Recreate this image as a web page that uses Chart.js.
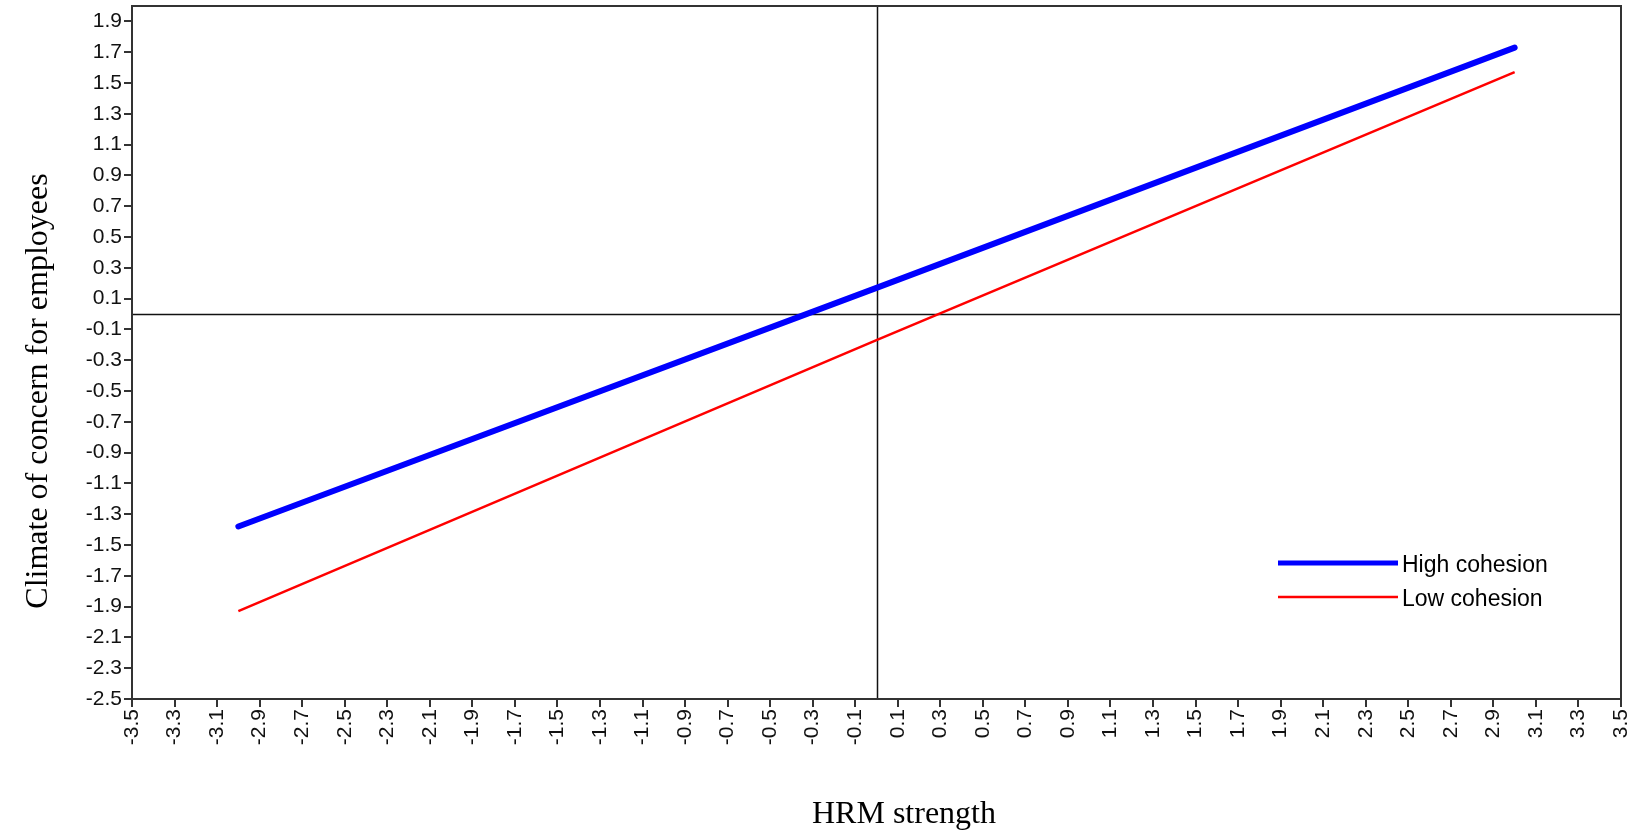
<!DOCTYPE html>
<html>
<head>
<meta charset="utf-8">
<script src="https://cdn.jsdelivr.net/npm/chart.js@4.4.1/dist/chart.umd.min.js"></script>
<style>
  body { margin: 0; background: #fff; }
  #wrap { width: 1635px; height: 833px; }
</style>
</head>
<body>
<div id="wrap"><canvas id="my-chart" width="1635" height="833"></canvas></div>
<script>
// values
const xValues = [-3, 0, 3];
const highCohesion = [-1.38, 0.17, 1.73];
const lowCohesion = [-1.93, -0.17, 1.57];

const seriesNames = ['High cohesion', 'Low cohesion'];
const xTitle = 'HRM strength';
const yTitle = 'Climate of concern for employees';

const xTicks = [-3.5, -3.3, -3.1, -2.9, -2.7, -2.5, -2.3, -2.1, -1.9, -1.7, -1.5, -1.3, -1.1, -0.9, -0.7, -0.5, -0.3, -0.1,
  0.1, 0.3, 0.5, 0.7, 0.9, 1.1, 1.3, 1.5, 1.7, 1.9, 2.1, 2.3, 2.5, 2.7, 2.9, 3.1, 3.3, 3.5];
const yTicks = [-2.5, -2.3, -2.1, -1.9, -1.7, -1.5, -1.3, -1.1, -0.9, -0.7, -0.5, -0.3, -0.1,
  0.1, 0.3, 0.5, 0.7, 0.9, 1.1, 1.3, 1.5, 1.7, 1.9];
const xMin = -3.5, xMax = 3.5, yMin = -2.5, yMax = 2.0;

const tickFont = { family: 'Liberation Sans, Arial, sans-serif', size: 21 };

// no extra room for the end labels, the plot fills the box
function noPadding(scale) {
  scale.paddingTop = 0;
  scale.paddingBottom = 0;
  scale.paddingLeft = 0;
  scale.paddingRight = 0;
}

// axes box + the two zero lines, titles and legend
const framePlugin = {
  id: 'frame',
  beforeDatasetsDraw(chart) {
    const { ctx, chartArea: a, scales } = chart;
    const x0 = Math.round(scales.x.getPixelForValue(0)) + 0.5;
    const y0 = Math.round(scales.y.getPixelForValue(0)) + 0.5;
    ctx.save();
    ctx.strokeStyle = '#111';
    ctx.lineWidth = 1.5;
    ctx.beginPath();
    ctx.moveTo(x0, a.top); ctx.lineTo(x0, a.bottom);
    ctx.moveTo(a.left, y0); ctx.lineTo(a.right, y0);
    ctx.stroke();
    ctx.strokeStyle = '#333';
    ctx.lineWidth = 2;
    ctx.strokeRect(a.left, a.top, a.right - a.left, a.bottom - a.top);
    ctx.restore();
  },
  afterDraw(chart) {
    const { ctx, chartArea: a } = chart;
    ctx.save();
    ctx.fillStyle = '#000';
    ctx.font = '32px "Liberation Serif", "Times New Roman", serif';
    ctx.textAlign = 'center';
    ctx.textBaseline = 'alphabetic';
    ctx.fillText(xTitle, 904, 823);
    ctx.translate(47, 391);
    ctx.rotate(-Math.PI / 2);
    ctx.fillText(yTitle, 0, 0);
    ctx.restore();

    ctx.save();
    ctx.font = '23px "Liberation Sans", Arial, sans-serif';
    ctx.textAlign = 'left';
    ctx.textBaseline = 'alphabetic';
    const lx = a.right - 343, rows = [563, 597];
    chart.data.datasets.forEach((ds, i) => {
      ctx.strokeStyle = ds.borderColor;
      ctx.lineWidth = i === 0 ? 5 : 2.5;
      ctx.beginPath();
      ctx.moveTo(lx, rows[i]);
      ctx.lineTo(lx + 120, rows[i]);
      ctx.stroke();
      ctx.fillStyle = '#000';
      ctx.fillText(ds.label, lx + 124, rows[i] + 9);
    });
    ctx.restore();
  }
};

const ctx = document.getElementById('my-chart').getContext('2d');
const chart = new Chart(ctx, {
  type: 'line',
  data: {
    datasets: [
      {
        label: seriesNames[0],
        data: xValues.map((x, i) => ({ x: x, y: highCohesion[i] })),
        borderColor: '#0000ff',
        borderWidth: 6,
        borderCapStyle: 'round',
        pointRadius: 0,
        tension: 0
      },
      {
        label: seriesNames[1],
        data: xValues.map((x, i) => ({ x: x, y: lowCohesion[i] })),
        borderColor: '#ff0000',
        borderWidth: 2.5,
        pointRadius: 0,
        tension: 0
      }
    ]
  },
  options: {
    responsive: false,
    animation: false,
    devicePixelRatio: 1,
    layout: { padding: { top: 6, right: 14, left: 0, bottom: 0 } },
    plugins: { legend: { display: false }, tooltip: { enabled: false } },
    scales: {
      x: {
        type: 'linear',
        min: xMin,
        max: xMax,
        afterBuildTicks: scale => { scale.ticks = xTicks.map(v => ({ value: v })); },
        afterFit: scale => { scale.height = 134; noPadding(scale); },
        ticks: {
          autoSkip: false,
          minRotation: 90,
          maxRotation: 90,
          padding: 2,
          color: '#111',
          font: tickFont,
          callback: v => v.toFixed(1)
        },
        grid: { drawOnChartArea: false, tickLength: 8, color: '#333', lineWidth: 2 },
        border: { display: false }
      },
      y: {
        type: 'linear',
        min: yMin,
        max: yMax,
        afterBuildTicks: scale => { scale.ticks = yTicks.map(v => ({ value: v })); },
        afterFit: scale => { scale.width = 132; noPadding(scale); },
        ticks: {
          padding: 2,
          color: '#111',
          font: tickFont,
          callback: v => v.toFixed(1)
        },
        grid: { drawOnChartArea: false, tickLength: 8, color: '#333', lineWidth: 2 },
        border: { display: false }
      }
    }
  },
  plugins: [framePlugin]
});
</script>
</body>
</html>
